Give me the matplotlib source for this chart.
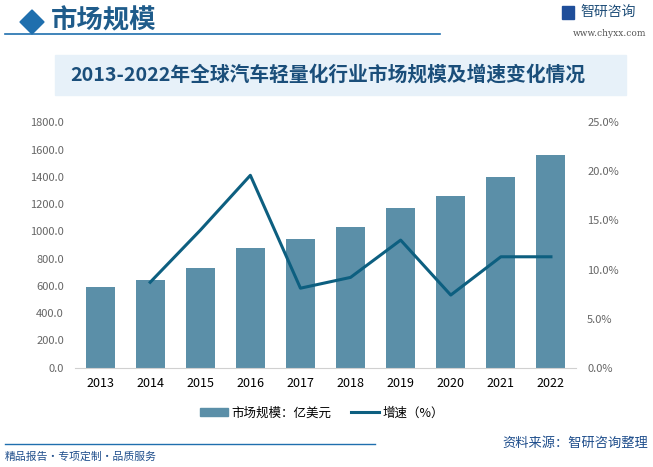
import matplotlib
matplotlib.use("Agg")
import matplotlib.pyplot as plt
from matplotlib.patches import Rectangle, Polygon
from matplotlib.lines import Line2D
import matplotlib.ticker as mticker

plt.rcParams['font.family'] = ['Noto Sans CJK SC', 'DejaVu Sans']

years = ['2013', '2014', '2015', '2016', '2017', '2018', '2019', '2020', '2021', '2022']
market_size = [592, 643, 731, 878, 944, 1032, 1171, 1259, 1399, 1560]
growth_years = ['2014', '2015', '2016', '2017', '2018', '2019', '2020', '2021', '2022']
growth = [8.7, 14.0, 19.6, 8.1, 9.2, 13.0, 7.4, 11.3, 11.3]

left_ticks = [0, 200, 400, 600, 800, 1000, 1200, 1400, 1600, 1800]
right_ticks = [0, 5, 10, 15, 20, 25]

title = '2013-2022年全球汽车轻量化行业市场规模及增速变化情况'
header = '市场规模'
legend_bar = '市场规模：亿美元'
legend_line = '增速（%）'
source = '资料来源：智研咨询整理'
slogan = '精品报告・专项定制・品质服务'

W, H = 653, 467
fig = plt.figure(figsize=(W / 100, H / 100), dpi=100)

def fx(x):
    return x / W

def fy(y):
    return 1 - y / H

bar_color = '#5B8FA8'
line_color = '#0D5F80'

# header
fig.patches.append(Polygon([[fx(20), fy(22)], [fx(32), fy(10)], [fx(44), fy(22)], [fx(32), fy(34)]],
                           closed=True, transform=fig.transFigure, color='#1F6FAE'))
fig.text(fx(51), fy(21), header, fontsize=19, color='#1F5C8B', fontweight='bold', va='center', ha='left')
fig.add_artist(Line2D([fx(5), fx(440)], [fy(33.5), fy(33.5)], color='#1F6FAE', lw=1.2, transform=fig.transFigure))
# logo
fig.patches.append(Rectangle((fx(562), fy(19)), fx(12), 13 / H, transform=fig.transFigure, color='#1F4E9A'))
fig.text(fx(580), fy(12), '智研咨询', fontsize=10, color='#1F4E79', va='center', ha='left')
fig.text(fx(610), fy(33), 'www.chyxx.com', fontsize=6.5, color='#555555', va='center', ha='center', family='DejaVu Serif')

# title banner
fig.patches.append(Rectangle((fx(55), fy(95)), fx(571), 40 / H, transform=fig.transFigure,
                             color='#E7F1F9', zorder=0))
fig.text(fx(328), fy(75), title, fontsize=14.2, fontweight='bold', color='#1A4E7A', va='center', ha='center')

# axes
ax = fig.add_axes([fx(75), fy(367.7), fx(576 - 75), (367.7 - 122.3) / H])
ax.set_facecolor('none')
x = list(range(len(years)))
ax.bar(x, market_size, width=0.58, color=bar_color, zorder=2)
ax.set_xlim(-0.5, len(years) - 0.5)
ax.set_ylim(0, 1800)
ax.set_yticks(left_ticks)
ax.yaxis.set_major_formatter(mticker.FuncFormatter(lambda v, p: f'{v:.1f}'))
ax.set_xticks(x)
ax.set_xticklabels(years)
ax.tick_params(axis='y', length=0, labelsize=8, labelcolor='#666666', pad=8)
ax.tick_params(axis='x', length=0, labelsize=9, labelcolor='#000000', pad=7)
for s in ['top', 'right', 'left']:
    ax.spines[s].set_visible(False)
ax.spines['bottom'].set_color('#D0D0D0')

ax2 = ax.twinx()
gx = [years.index(y) for y in growth_years]
ax2.plot(gx, growth, color=line_color, lw=2.2, zorder=3)
ax2.set_ylim(0, 25)
ax2.set_yticks(right_ticks)
ax2.yaxis.set_major_formatter(mticker.FuncFormatter(lambda v, p: f'{v:.1f}%'))
ax2.tick_params(axis='y', length=0, labelsize=8, labelcolor='#666666', pad=8)
for s in ['top', 'right', 'left', 'bottom']:
    ax2.spines[s].set_visible(False)

# legend
handles = [Rectangle((0, 0), 1, 1, color=bar_color), Line2D([0], [0], color=line_color, lw=2.2)]
fig.legend(handles, [legend_bar, legend_line], loc='center', bbox_to_anchor=(fx(322), fy(413)),
           ncol=2, frameon=False, fontsize=9, handlelength=2.2, handleheight=0.6, columnspacing=1.6,
           handletextpad=0.3)

# footer
fig.add_artist(Line2D([fx(5), fx(375)], [fy(443.5), fy(443.5)], color='#1F6FAE', lw=1.0, transform=fig.transFigure))
fig.text(fx(648), fy(443), source, fontsize=9.5, color='#1F4E8C', va='center', ha='right')
fig.text(fx(5), fy(457), slogan, fontsize=7.8, color='#1F4E8C', va='center', ha='left')

fig.savefig('out.png', dpi=100)
